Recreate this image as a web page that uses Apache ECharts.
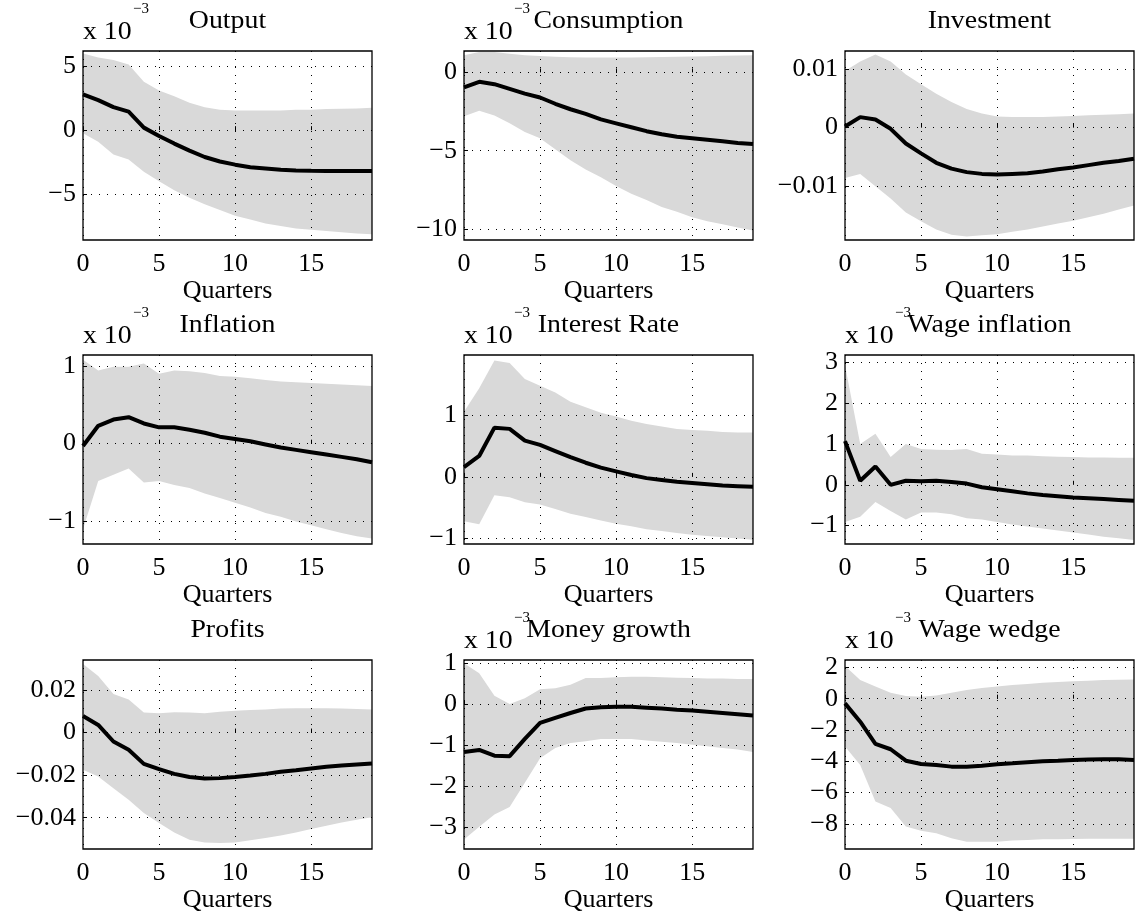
<!DOCTYPE html>
<html><head><meta charset="utf-8">
<script src="https://cdn.jsdelivr.net/npm/echarts@6/dist/echarts.min.js"></script>
<style>html,body{margin:0;padding:0;background:#fff}#c{width:1135px;height:922px}</style>
</head><body><div id="c"></div>
<script>
// ---------------- data ----------------
const quarters = [0,1,2,3,4,5,6,7,8,9,10,11,12,13,14,15,16,17,18,19];
const xTicks = [0,5,10,15];
const titles = ['Output','Consumption','Investment','Inflation','Interest Rate','Wage inflation','Profits','Money growth','Wage wedge'];
const scaledE3 = [true,true,false,true,true,true,false,true,true]; // "x 10^-3" shown

const outputMean = [2.8,2.35,1.8,1.45,0.2,-0.45,-1.05,-1.6,-2.1,-2.45,-2.7,-2.9,-3.0,-3.1,-3.15,-3.18,-3.2,-3.2,-3.2,-3.2];
const outputHigh = [6.0,5.7,5.5,5.15,3.8,3.1,2.65,2.15,1.8,1.6,1.55,1.55,1.55,1.55,1.6,1.6,1.65,1.67,1.7,1.75];
const outputLow  = [-0.25,-0.9,-1.9,-2.3,-3.25,-4.0,-4.7,-5.3,-5.8,-6.25,-6.7,-7.0,-7.3,-7.5,-7.7,-7.8,-7.9,-8.0,-8.1,-8.15];
const outputTicks = [-5,0,5];

const consMean = [-0.95,-0.6,-0.75,-1.05,-1.35,-1.6,-2.0,-2.35,-2.65,-3.0,-3.25,-3.5,-3.75,-3.95,-4.1,-4.2,-4.3,-4.4,-4.5,-4.57];
const consHigh = [1.1,1.3,1.3,1.2,1.1,1.05,1.0,0.97,0.95,0.95,0.95,0.95,0.97,0.98,1.0,1.02,1.04,1.06,1.08,1.1];
const consLow  = [-2.8,-2.45,-2.75,-3.25,-3.8,-4.2,-4.9,-5.6,-6.2,-6.7,-7.25,-7.75,-8.15,-8.6,-8.9,-9.25,-9.5,-9.7,-9.9,-10.1];
const consTicks = [-10,-5,0];

const invMean = [0.0002,0.0018,0.0014,-0.0002,-0.0027,-0.0044,-0.006,-0.007,-0.0076,-0.0079,-0.008,-0.0079,-0.0078,-0.0075,-0.0071,-0.0068,-0.0064,-0.006,-0.0057,-0.0053];
const invHigh = [0.0097,0.0113,0.0125,0.0113,0.0091,0.0074,0.0058,0.0044,0.0032,0.0024,0.0019,0.0018,0.0018,0.0018,0.0019,0.002,0.0021,0.0022,0.0023,0.0024];
const invLow  = [-0.0086,-0.0079,-0.01,-0.0121,-0.0145,-0.016,-0.0174,-0.0183,-0.0186,-0.0184,-0.0182,-0.0178,-0.0174,-0.0169,-0.0164,-0.0159,-0.0153,-0.0147,-0.014,-0.0133];
const invTicks = [-0.01,0,0.01];

const inflMean = [-0.03,0.23,0.31,0.34,0.26,0.21,0.21,0.18,0.14,0.09,0.06,0.03,-0.01,-0.05,-0.08,-0.11,-0.14,-0.17,-0.2,-0.24];
const inflHigh = [1.08,0.94,0.99,0.99,1.03,0.9,0.94,0.93,0.91,0.87,0.86,0.84,0.82,0.8,0.79,0.78,0.77,0.76,0.75,0.74];
const inflLow  = [-1.1,-0.48,-0.4,-0.32,-0.5,-0.48,-0.53,-0.57,-0.64,-0.7,-0.76,-0.82,-0.89,-0.94,-1.0,-1.05,-1.1,-1.15,-1.19,-1.22];
const inflTicks = [-1,0,1];

const rateMean = [0.16,0.34,0.8,0.78,0.59,0.52,0.42,0.32,0.23,0.15,0.09,0.03,-0.02,-0.05,-0.08,-0.1,-0.12,-0.14,-0.15,-0.16];
const rateHigh = [1.06,1.44,1.89,1.85,1.59,1.48,1.37,1.22,1.13,1.04,0.98,0.91,0.86,0.82,0.78,0.76,0.75,0.73,0.72,0.72];
const rateLow  = [-0.72,-0.77,-0.3,-0.33,-0.41,-0.45,-0.52,-0.6,-0.65,-0.71,-0.76,-0.8,-0.85,-0.88,-0.91,-0.94,-0.96,-0.98,-1.0,-1.02];
const rateTicks = [-1,0,1];

const wageInfMean = [1.07,0.1,0.45,0.0,0.1,0.09,0.1,0.07,0.03,-0.06,-0.11,-0.16,-0.21,-0.25,-0.28,-0.31,-0.33,-0.35,-0.37,-0.39];
const wageInfHigh = [2.93,1.0,1.25,0.68,1.0,0.88,0.86,0.85,0.88,0.76,0.74,0.72,0.72,0.7,0.69,0.68,0.67,0.67,0.66,0.66];
const wageInfLow  = [-0.91,-0.78,-0.42,-0.64,-0.85,-0.68,-0.68,-0.72,-0.82,-0.85,-0.91,-0.97,-1.02,-1.07,-1.12,-1.17,-1.22,-1.27,-1.31,-1.35];
const wageInfTicks = [-1,0,1,2,3];

const profMean = [0.0078,0.0036,-0.0042,-0.0081,-0.0147,-0.0172,-0.0194,-0.0209,-0.0216,-0.0214,-0.0209,-0.0202,-0.0194,-0.0184,-0.0177,-0.0169,-0.0161,-0.0155,-0.015,-0.0145];
const profHigh = [0.0322,0.0266,0.0181,0.0156,0.0094,0.0091,0.0095,0.0094,0.0091,0.0098,0.0103,0.0106,0.0109,0.0113,0.0114,0.0114,0.0114,0.0113,0.0111,0.0109];
const profLow  = [-0.0175,-0.0206,-0.0261,-0.0316,-0.0378,-0.0425,-0.0469,-0.0503,-0.0516,-0.0519,-0.0516,-0.0506,-0.0495,-0.0483,-0.0469,-0.0453,-0.0438,-0.0422,-0.0409,-0.0398];
const profTicks = [-0.04,-0.02,0,0.02];

const moneyMean = [-1.16,-1.11,-1.25,-1.26,-0.84,-0.45,-0.33,-0.21,-0.1,-0.07,-0.06,-0.06,-0.08,-0.1,-0.13,-0.15,-0.18,-0.21,-0.24,-0.27];
const moneyHigh = [1.0,0.76,0.21,0.01,0.15,0.37,0.39,0.48,0.64,0.64,0.66,0.67,0.67,0.66,0.65,0.64,0.63,0.63,0.62,0.62];
const moneyLow  = [-3.29,-2.98,-2.68,-2.5,-1.91,-1.31,-1.06,-0.94,-0.9,-0.84,-0.84,-0.84,-0.88,-0.91,-0.94,-0.98,-1.02,-1.06,-1.1,-1.16];
const moneyTicks = [-3,-2,-1,0,1];

const wedgeMean = [-0.3,-1.47,-2.89,-3.23,-3.96,-4.17,-4.23,-4.34,-4.34,-4.28,-4.19,-4.13,-4.06,-4.0,-3.96,-3.91,-3.89,-3.87,-3.87,-3.91];
const wedgeHigh = [2.09,1.19,0.77,0.38,0.17,0.13,0.21,0.38,0.55,0.68,0.77,0.87,0.94,1.02,1.06,1.11,1.15,1.19,1.21,1.23];
const wedgeLow  = [-3.06,-4.23,-6.57,-6.98,-8.17,-8.43,-8.6,-8.91,-9.13,-9.13,-9.13,-9.06,-9.02,-8.98,-8.98,-8.96,-8.94,-8.94,-8.94,-8.94];
const wedgeTicks = [-8,-6,-4,-2,0,2];

// ---------------- layout ----------------
const panelData = [
  [outputMean, outputLow, outputHigh, outputTicks],
  [consMean, consLow, consHigh, consTicks],
  [invMean, invLow, invHigh, invTicks],
  [inflMean, inflLow, inflHigh, inflTicks],
  [rateMean, rateLow, rateHigh, rateTicks],
  [wageInfMean, wageInfLow, wageInfHigh, wageInfTicks],
  [profMean, profLow, profHigh, profTicks],
  [moneyMean, moneyLow, moneyHigh, moneyTicks],
  [wedgeMean, wedgeLow, wedgeHigh, wedgeTicks]
];
const yRange = [[-8.6,6.2],[-10.7,1.37],[-0.0192,0.0131],[-1.29,1.14],[-1.09,1.98],[-1.45,3.18],[-0.0547,0.0341],[-3.52,1.08],[-9.6,2.47]];
const colLeft = [83, 464, 845];
const rowTop = [51, 355, 660];
const W = 289, H = 189;
const FONT = '"Liberation Serif", "Times New Roman", serif';

const grids = [], xAxes = [], yAxes = [], series = [], texts = [];
const fmt = v => (v < 0 ? '\u2212' : '') + String(Math.abs(v));

panelData.forEach((pd, i) => {
  const [mean, low, high, ticks] = pd;
  const left = colLeft[i % 3], top = rowTop[Math.floor(i / 3)];
  grids.push({left: left, top: top, width: W, height: H, show: true, borderColor: '#000', borderWidth: 1.3,
    backgroundColor: 'transparent', z: 6, containLabel: false, outerBoundsMode: 'none'});
  xAxes.push({type: 'value', gridIndex: i, min: 0, max: 19, interval: 5, z: 3,
    axisLine: {show: false},
    axisTick: {show: true, inside: true, length: 4, customValues: xTicks, lineStyle: {color: '#000', width: 1}},
    axisLabel: {customValues: xTicks, color: '#000', fontFamily: FONT, fontSize: 26, margin: 11, formatter: fmt},
    splitLine: {show: true, lineStyle: {color: '#000', width: 1, type: [1, 7]}},
    name: 'Quarters', nameLocation: 'middle', nameGap: 36,
    nameTextStyle: {color: '#000', fontFamily: FONT, fontSize: 26}
  });
  yAxes.push({type: 'value', gridIndex: i, min: yRange[i][0], max: yRange[i][1], z: 3,
    axisLine: {show: false},
    axisTick: {show: true, inside: true, length: 4, customValues: ticks, lineStyle: {color: '#000', width: 1}},
    axisLabel: {customValues: ticks, color: '#000', fontFamily: FONT, fontSize: 26, margin: 7, formatter: fmt},
    splitLine: {show: true, lineStyle: {color: '#000', width: 1, type: [1, 7]}}
  });
  // confidence band drawn as one polygon through the axis scales
  series.push({type: 'custom', xAxisIndex: i, yAxisIndex: i, z: 1, silent: true, clip: true,
    data: quarters.map((q, k) => [q, low[k], high[k]]),
    encode: {x: 0, y: [1, 2]},
    renderItem: (params, api) => {
      if (params.dataIndex !== 0) return null;
      const pts = [];
      for (let k = 0; k < quarters.length; k++) pts.push(api.coord([quarters[k], high[k]]));
      for (let k = quarters.length - 1; k >= 0; k--) pts.push(api.coord([quarters[k], low[k]]));
      return {type: 'polygon', shape: {points: pts}, style: {fill: '#d9d9d9', stroke: null}};
    }
  });
  series.push({type: 'line', xAxisIndex: i, yAxisIndex: i,
    data: quarters.map((q, k) => [q, mean[k]]), symbol: 'none', silent: true, z: 4,
    lineStyle: {color: '#000', width: 4}});

  texts.push({type: 'text', x: left + W / 2, y: top - 30, z: 10, scaleX: 1.07,
    style: {text: titles[i], fill: '#000', fontFamily: FONT, fontSize: 26,
      align: 'center', verticalAlign: 'middle', textAlign: 'center', textVerticalAlign: 'middle'}});
  if (scaledE3[i]) {
    texts.push({type: 'text', x: left, y: top - 19, z: 10, scaleX: 1.07,
      style: {text: 'x 10', fill: '#000', fontFamily: FONT, fontSize: 26,
        align: 'left', verticalAlign: 'middle', textAlign: 'left', textVerticalAlign: 'middle'}});
    texts.push({type: 'text', x: left + 50, y: top - 42, z: 10,
      style: {text: '\u22123', fill: '#000', fontFamily: FONT, fontSize: 15,
        align: 'left', verticalAlign: 'middle', textAlign: 'left', textVerticalAlign: 'middle'}});
  }
});

const chart = echarts.init(document.getElementById('c'), null, {renderer: 'canvas'});
chart.setOption({
  animation: false,
  backgroundColor: '#fff',
  grid: grids, xAxis: xAxes, yAxis: yAxes, series: series,
  graphic: {elements: texts}
});
</script></body></html>
